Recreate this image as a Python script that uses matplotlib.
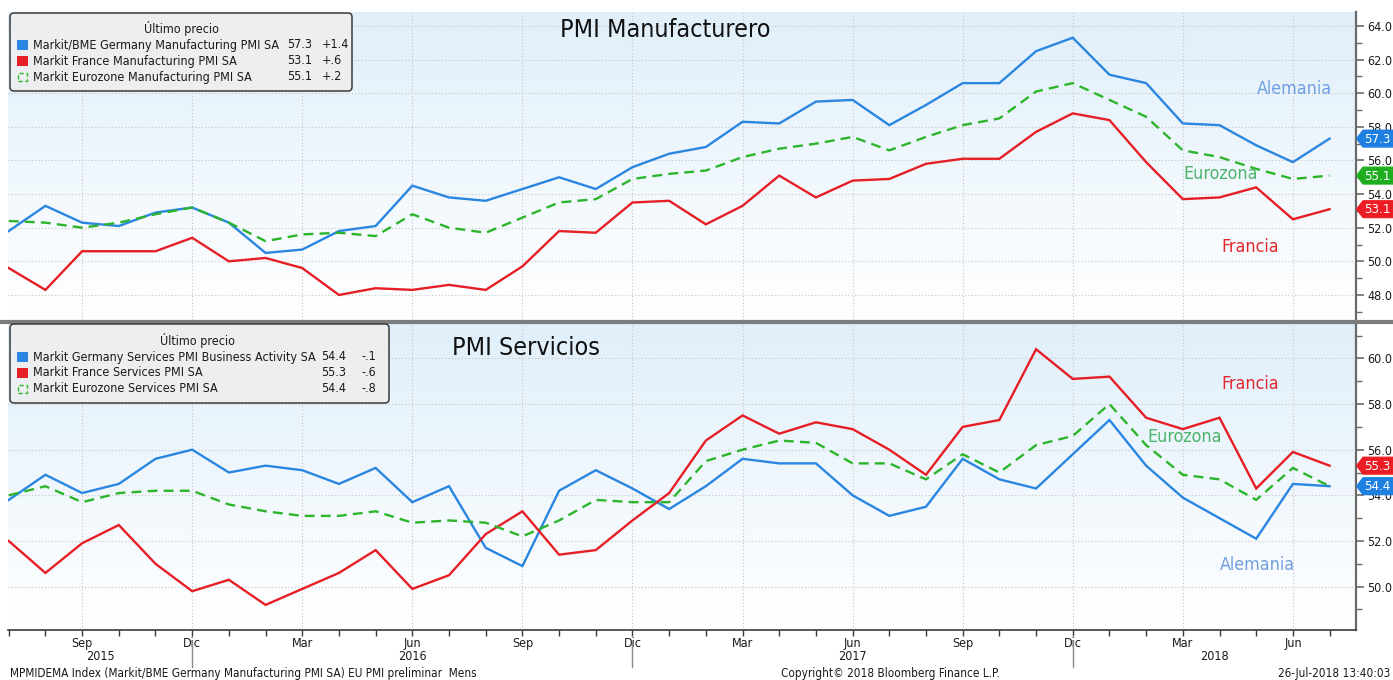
import numpy as np
import pandas as pd
import matplotlib
matplotlib.use("Agg")
import matplotlib.pyplot as plt
from matplotlib import font_manager as fm
from matplotlib import transforms as mtrans
from matplotlib.patches import FancyBboxPatch, Rectangle, Polygon
from matplotlib.lines import Line2D
from matplotlib.colors import LinearSegmentedColormap

# ---------------- data ----------------
months = [str(p) for p in pd.period_range("2015-07", "2018-07", freq="M")]

de_manuf = [51.8, 53.3, 52.3, 52.1, 52.9, 53.2,
            52.3, 50.5, 50.7, 51.8, 52.1, 54.5, 53.8, 53.6, 54.3, 55.0, 54.3, 55.6,
            56.4, 56.8, 58.3, 58.2, 59.5, 59.6, 58.1, 59.3, 60.6, 60.6, 62.5, 63.3,
            61.1, 60.6, 58.2, 58.1, 56.9, 55.9, 57.3]
fr_manuf = [49.6, 48.3, 50.6, 50.6, 50.6, 51.4,
            50.0, 50.2, 49.6, 48.0, 48.4, 48.3, 48.6, 48.3, 49.7, 51.8, 51.7, 53.5,
            53.6, 52.2, 53.3, 55.1, 53.8, 54.8, 54.9, 55.8, 56.1, 56.1, 57.7, 58.8,
            58.4, 55.9, 53.7, 53.8, 54.4, 52.5, 53.1]
ez_manuf = [52.4, 52.3, 52.0, 52.3, 52.8, 53.2,
            52.3, 51.2, 51.6, 51.7, 51.5, 52.8, 52.0, 51.7, 52.6, 53.5, 53.7, 54.9,
            55.2, 55.4, 56.2, 56.7, 57.0, 57.4, 56.6, 57.4, 58.1, 58.5, 60.1, 60.6,
            59.6, 58.6, 56.6, 56.2, 55.5, 54.9, 55.1]

de_serv = [53.8, 54.9, 54.1, 54.5, 55.6, 56.0,
           55.0, 55.3, 55.1, 54.5, 55.2, 53.7, 54.4, 51.7, 50.9, 54.2, 55.1, 54.3,
           53.4, 54.4, 55.6, 55.4, 55.4, 54.0, 53.1, 53.5, 55.6, 54.7, 54.3, 55.8,
           57.3, 55.3, 53.9, 53.0, 52.1, 54.5, 54.4]
fr_serv = [52.0, 50.6, 51.9, 52.7, 51.0, 49.8,
           50.3, 49.2, 49.9, 50.6, 51.6, 49.9, 50.5, 52.3, 53.3, 51.4, 51.6, 52.9,
           54.1, 56.4, 57.5, 56.7, 57.2, 56.9, 56.0, 54.9, 57.0, 57.3, 60.4, 59.1,
           59.2, 57.4, 56.9, 57.4, 54.3, 55.9, 55.3]
ez_serv = [54.0, 54.4, 53.7, 54.1, 54.2, 54.2,
           53.6, 53.3, 53.1, 53.1, 53.3, 52.8, 52.9, 52.8, 52.2, 52.9, 53.8, 53.7,
           53.7, 55.5, 56.0, 56.4, 56.3, 55.4, 55.4, 54.7, 55.8, 55.0, 56.2, 56.6,
           58.0, 56.2, 54.9, 54.7, 53.8, 55.2, 54.4]

manuf_names = ["Markit/BME Germany Manufacturing PMI SA",
               "Markit France Manufacturing PMI SA",
               "Markit Eurozone Manufacturing PMI SA"]
manuf_last = ["57.3", "53.1", "55.1"]
manuf_chg = ["+1.4", "+.6", "+.2"]

serv_names = ["Markit Germany Services PMI Business Activity SA",
              "Markit France Services PMI SA",
              "Markit Eurozone Services PMI SA"]
serv_last = ["54.4", "55.3", "54.4"]
serv_chg = ["-.1", "-.6", "-.8"]

month_abbr = {3: "Mar", 6: "Jun", 9: "Sep", 12: "Dic"}
years = ["2015", "2016", "2017", "2018"]

# ---------------- fonts ----------------
ttf = fm.fontManager.ttflist
names = {f.name for f in ttf}
stretch = "normal"
if "Liberation Sans Narrow" in names:
    fam = "Liberation Sans Narrow"
elif "DejaVu Sans Condensed" in names:
    fam = "DejaVu Sans Condensed"
elif any(f.name == "DejaVu Sans" and str(f.stretch) in ("condensed", "semi-condensed") for f in ttf):
    fam = "DejaVu Sans"; stretch = "condensed"
elif "Roboto Condensed" in names:
    fam = "Roboto Condensed"
else:
    fam = "Lato"
plt.rcParams["font.family"] = [fam, "DejaVu Sans"]
plt.rcParams["font.stretch"] = stretch

# ---------------- styling ----------------
BLUE = "#2a86e0"
RED = "#e61e26"
GREEN = "#2cb52c"
LBL_BLUE = "#6f9fe0"
LBL_GREEN = "#4cb36c"
LBL_RED = "#e2262c"
AXC = "#6a6a6a"
W, H = 1393, 680

fig = plt.figure(figsize=(W / 100, H / 100), dpi=100)
fig.patch.set_facecolor("white")

x = np.arange(len(months))
XMIN, XMAX = -0.02, 36.72
mon_num = [int(m[5:]) for m in months]
lab_pos = [i for i, m in enumerate(mon_num) if m in month_abbr]
lab_txt = [month_abbr[mon_num[i]] for i in lab_pos]
dec_pos = [i for i, m in enumerate(mon_num) if m == 12]

grad_cmap = LinearSegmentedColormap.from_list("g", ["#ffffff", "#e0effa"])
grad = np.linspace(1, 0, 256).reshape(-1, 1)


def px_axes(top, bottom):
    return [8 / W, 1 - bottom / H, (1356 - 8) / W, (bottom - top) / H]


def style_axes(ax, ylo, yhi, majors):
    ax.set_xlim(XMIN, XMAX)
    ax.set_ylim(ylo, yhi)
    ax.imshow(grad, extent=[0, 1, 0, 1], transform=ax.transAxes, aspect="auto",
              cmap=grad_cmap, zorder=0, interpolation="bicubic")
    ax.set_facecolor("white")
    ax.yaxis.tick_right()
    ax.set_yticks(majors)
    ax.set_yticks(np.arange(np.ceil(ylo), yhi, 1.0), minor=True)
    ax.set_yticklabels([f"{v:.1f}" for v in majors])
    ax.tick_params(axis="y", which="major", direction="out", length=6, width=1.2,
                   color=AXC, labelsize=9, pad=2, labelcolor="#1a1a1a")
    ax.tick_params(axis="y", which="minor", direction="out", length=4, width=1.0,
                   color=AXC)
    ax.set_xticks(lab_pos)
    ax.set_xticks(x, minor=True)
    ax.grid(True, which="major", color="#c4c4c4", linestyle=(0, (1, 2)), linewidth=0.8)
    for s in ["left", "top"]:
        ax.spines[s].set_visible(False)
    ax.spines["right"].set_color(AXC)
    ax.spines["right"].set_linewidth(1.6)


def plot_series(ax, de, fr, ez):
    ax.plot(x, de, color=BLUE, lw=1.7, zorder=3, solid_joinstyle="miter")
    ax.plot(x, fr, color=RED, lw=1.7, zorder=3, solid_joinstyle="miter")
    ax.plot(x, ez, color=GREEN, lw=1.7, zorder=3, linestyle=(0, (4.2, 2.6)))


# ---------------- top panel ----------------
ax1 = fig.add_axes(px_axes(12, 320))
style_axes(ax1, 46.51, 64.83, np.arange(48, 64.1, 2))
ax1.spines["bottom"].set_visible(False)
ax1.tick_params(axis="x", which="both", length=0, labelbottom=False)
plot_series(ax1, de_manuf, fr_manuf, ez_manuf)
ax1.text(0.4877, 0.94, "PMI Manufacturero", transform=ax1.transAxes, fontsize=18,
         ha="center", va="center", color="#111111")
ax1.text(35.05, 60.25, "Alemania", color=LBL_BLUE, fontsize=12.8, ha="center", va="center")
ax1.text(33.04, 55.2, "Eurozona", color=LBL_GREEN, fontsize=12.8, ha="center", va="center")
ax1.text(33.83, 50.85, "Francia", color=LBL_RED, fontsize=12.8, ha="center", va="center")

# ---------------- bottom panel ----------------
ax2 = fig.add_axes(px_axes(323, 630))
style_axes(ax2, 48.10, 61.55, np.arange(50, 60.1, 2))
ax2.spines["bottom"].set_color("#3a3a3a")
ax2.spines["bottom"].set_linewidth(1.2)
ax2.set_xticklabels(lab_txt)
ax2.tick_params(axis="x", which="both", direction="out", length=4, width=1.0,
                color="#3a3a3a", labelsize=9, pad=1, labelcolor="#1a1a1a")
plot_series(ax2, de_serv, fr_serv, ez_serv)
ax2.text(0.384, 0.92, "PMI Servicios", transform=ax2.transAxes, fontsize=18,
         ha="center", va="center", color="#111111")
ax2.text(33.83, 58.87, "Francia", color=LBL_RED, fontsize=12.8, ha="center", va="center")
ax2.text(32.05, 56.55, "Eurozona", color=LBL_GREEN, fontsize=12.8, ha="center", va="center")
ax2.text(34.04, 50.95, "Alemania", color=LBL_BLUE, fontsize=12.8, ha="center", va="center")

# year labels and separators
bounds = [XMIN] + dec_pos + [XMAX]
for k, yr in enumerate(years):
    lo = max(bounds[k], 0)
    hi = bounds[k + 1]
    ax2.text((lo + hi) / 2, -0.085, yr, transform=ax2.get_xaxis_transform(),
             ha="center", va="center", fontsize=9, color="#1a1a1a", clip_on=False)
for d in dec_pos:
    ax2.plot([d, d], [-0.035, -0.12], transform=ax2.get_xaxis_transform(),
             color="#8a8a8a", lw=1.0, clip_on=False)

ID = mtrans.IdentityTransform()


def P(px, py):
    return px, H - py


# separator between panels
fig.add_artist(Line2D([0, W], [H - 321.5, H - 321.5], transform=ID, color="#7c7c7c", lw=3.0))


# ---------------- value tags ----------------
def tag(ax, val, color):
    xd, yd = ax.transData.transform((XMAX, float(val)))
    h = 8.5
    verts = [(xd + 0.5, yd), (xd + 7, yd + h), (xd + 37, yd + h), (xd + 37, yd - h),
             (xd + 7, yd - h)]
    fig.add_artist(Polygon(verts, closed=True, transform=ID, facecolor=color,
                           edgecolor=color, lw=0.8, zorder=5))
    fig.text(xd + 21.5, yd - 0.5, val, transform=ID, ha="center", va="center",
             color="white", fontsize=9.5, zorder=6)


tag(ax1, manuf_last[0], "#1d7fe0")
tag(ax1, manuf_last[2], "#1fae1f")
tag(ax1, manuf_last[1], "#ec1c24")
tag(ax2, serv_last[1], "#ec1c24")
tag(ax2, serv_last[0], "#1d7fe0")


# ---------------- legends ----------------
def legend_box(x0, y0, x1, y1, title_x, title_y, rows_y, names_, last_, chg_, val_right, chg_left):
    fig.add_artist(FancyBboxPatch(P(x0, y1), x1 - x0, y1 - y0, transform=ID,
                                  boxstyle="round,pad=0,rounding_size=4",
                                  facecolor="#eceef0", edgecolor="#3a3a3a", lw=1.1, zorder=4))
    fig.text(*P(title_x, title_y), "Último precio", transform=ID, ha="center", va="center",
             fontsize=9, color="#1a1a1a", zorder=6)
    cols = [BLUE, RED, None]
    for ry, nm, lv, cg, c in zip(rows_y, names_, last_, chg_, cols):
        if c is not None:
            fig.add_artist(Rectangle(P(17, ry + 5), 11, 10, transform=ID, facecolor=c,
                                     edgecolor=c, lw=0, zorder=5))
        else:
            fig.add_artist(Rectangle(P(18, ry + 4), 9, 8, transform=ID, facecolor="none",
                                     edgecolor=GREEN, lw=1.0, linestyle=(0, (3, 2)), zorder=5))
        fig.text(*P(33, ry), nm, transform=ID, ha="left", va="center", fontsize=9,
                 color="#1a1a1a", zorder=6)
        fig.text(*P(val_right, ry), lv, transform=ID, ha="right", va="center", fontsize=9,
                 color="#1a1a1a", zorder=6)
        fig.text(*P(chg_left, ry), cg, transform=ID, ha="left", va="center", fontsize=9,
                 color="#1a1a1a", zorder=6)


legend_box(10, 13, 352, 91, 182, 29, [45, 61, 77], manuf_names, manuf_last, manuf_chg, 312, 322)
legend_box(10, 324, 389, 403, 198, 340, [357, 373, 389], serv_names, serv_last, serv_chg, 346, 362)

# ---------------- footer ----------------
fig.text(*P(10, 673), "MPMIDEMA Index (Markit/BME Germany Manufacturing PMI SA) EU PMI preliminar  Mens",
         transform=ID, ha="left", va="center", fontsize=8.5, color="#1a1a1a")
fig.text(*P(890, 673), "Copyright\u00a9 2018 Bloomberg Finance L.P.", transform=ID,
         ha="center", va="center", fontsize=8.5, color="#1a1a1a")
fig.text(*P(1390, 673), "26-Jul-2018 13:40:03", transform=ID, ha="right", va="center",
         fontsize=8.5, color="#1a1a1a")

fig.savefig("out.png", dpi=100, facecolor="white")
